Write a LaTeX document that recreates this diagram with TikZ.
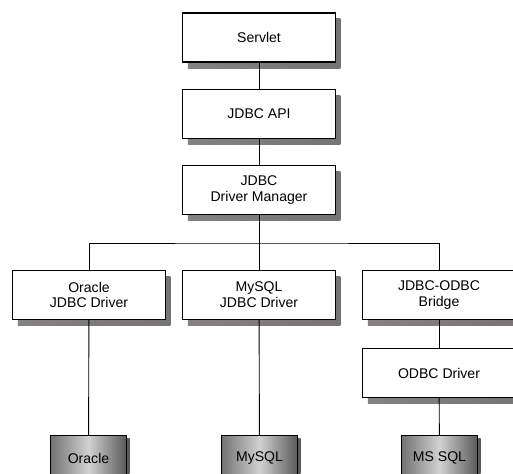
\documentclass[tikz,border=0pt]{standalone}
\usepackage{fontspec}
\setmainfont{Liberation Sans}
\definecolor{shadowgray}{RGB}{132,130,128}
\definecolor{dbshadow}{RGB}{92,90,88}

\begin{document}
\begin{tikzpicture}[x=1cm,y=1cm,font=\fontsize{8}{9}\selectfont,
  box/.style={rectangle,draw=black,line width=0.6pt,fill=white,minimum width=3.05cm,minimum height=0.98cm,
    align=center,inner sep=0},
  dbbox/.style={rectangle,draw=black,line width=0.6pt,minimum width=1.52cm,minimum height=0.9cm,inner sep=0,
    left color=black!55,right color=black!65,middle color=black!18},
  boxshadow/.style={left color=shadowgray,right color=shadowgray!90!black},
  link/.style={line width=0.5pt,black}]

%% frame of the picture (boxes on the right and bottom are cut off)
\useasboundingbox (0,0) rectangle (10.26,9.46);

%% shadows first, boxes on top
\foreach \x/\y in {5.18/8.71,5.18/7.18,5.18/5.66,1.78/3.56,5.18/3.56,8.78/3.56,8.78/2.00}
  \shade[boxshadow] (\x-1.425,\y-0.61) rectangle (\x+1.625,\y+0.37);
\foreach \x in {1.77,5.19,8.79}
  \shade[left color=dbshadow,right color=dbshadow] (\x-0.70,-0.21) rectangle (\x+0.82,0.69);

%% top column
\node[box] (servlet) at (5.18,8.71) {Servlet};
\node[box] (api) at (5.18,7.18) {JDBC API};
\node[box] (mgr) at (5.18,5.66) {JDBC\\Driver Manager};
\coordinate (bus) at (5.18,4.60);

%% drivers
\node[box] (oradrv) at (1.78,3.56) {Oracle\\JDBC Driver};
\node[box] (mydrv) at (5.18,3.56) {MySQL\\JDBC Driver};
\node[box] (bridge) at (8.78,3.56) {JDBC-ODBC\\Bridge};
\node[box] (odbc) at (8.78,2.00) {ODBC Driver};

%% databases
\node[dbbox] (oradb) at (1.77,0.30) {Oracle};
\node[dbbox] (mydb) at (5.19,0.30) {MySQL};
\node[dbbox] (msdb) at (8.79,0.30) {MS SQL};

%% connections
\draw[link] (servlet) -- (api);
\draw[link] (api) -- (mgr);
\draw[link] (mgr) -- (mydrv);
\draw[link] (oradrv.north) |- (bus) -| (bridge.north);
\draw[link] (oradrv) -- (oradb);
\draw[link] (mydrv) -- (mydb);
\draw[link] (bridge) -- (odbc);
\draw[link] (odbc) -- (msdb);
\end{tikzpicture}
\end{document}
